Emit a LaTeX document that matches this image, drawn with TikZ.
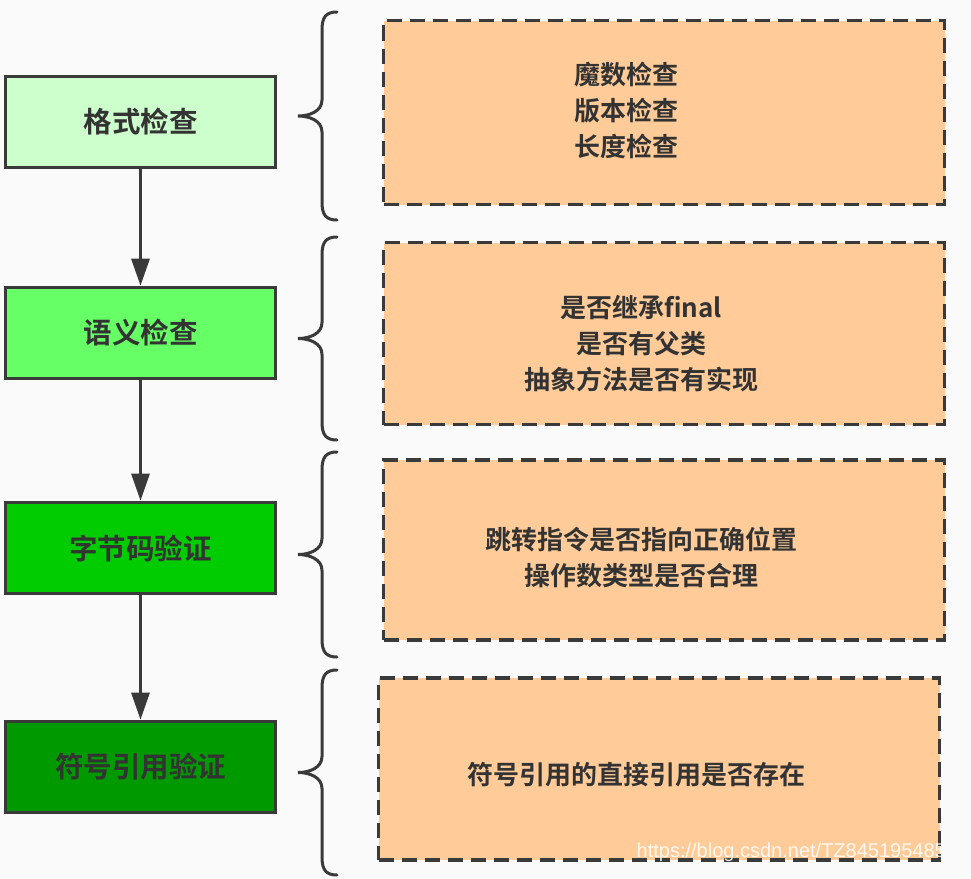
\documentclass[tikz,border=0pt]{standalone}
\usepackage{fontspec}
\newfontfamily\cjk{Noto Sans CJK SC Bold}
\newfontfamily\wmfont{Liberation Sans}
\usetikzlibrary{arrows.meta}
\definecolor{bg}{HTML}{FAFAFA}
\definecolor{edge}{HTML}{3A3A3A}
\definecolor{txt}{HTML}{333333}
\definecolor{gA}{HTML}{CCFFCC}
\definecolor{gB}{HTML}{66FF66}
\definecolor{gC}{HTML}{00CC00}
\definecolor{gD}{HTML}{009900}
\definecolor{peach}{HTML}{FFCC99}
\tikzset{
  stage/.style={draw=edge, line width=3.6pt, minimum width=270pt, minimum height=91pt, inner sep=0pt,
    font=\cjk\fontsize{28.5}{32}\selectfont, text=txt},
  detail/.style={draw=edge, line width=3.6pt, dash pattern=on 15pt off 8pt, fill=peach,
    minimum width=561pt, inner sep=0pt},
  detailtext/.style={align=center, font=\cjk\fontsize{26}{36}\selectfont, text=txt, inner sep=0pt},
  flow/.style={draw=edge, line width=3pt, -{Triangle[length=27pt,width=18pt]}},
  bracestyle/.style={draw=edge, line width=3pt, line cap=round},
}
\begin{document}
\begin{tikzpicture}[x=1pt,y=-1pt]
\fill[bg] (0,0) rectangle (971,878);
\useasboundingbox (0,0) rectangle (971,878);
% stages
\node[stage, fill=gA] (s1) at (140.5,122) {\raisebox{-4pt}{格式检查}};
\node[stage, fill=gB] (s2) at (140.5,333) {\raisebox{-4pt}{语义检查}};
\node[stage, fill=gC] (s3) at (140.5,548) {\raisebox{-4pt}{字节码验证}};
\node[stage, fill=gD] (s4) at (140.5,767) {\raisebox{-4pt}{符号引用验证}};
% arrows
\draw[flow] (s1) -- (s2);
\draw[flow] (s2) -- (s3);
\draw[flow] (s3) -- (s4);
% detail boxes
\node[detail, minimum height=184pt] (d1) at (664,112.5) {};
\node[detail, minimum height=182pt] (d2) at (664,333.5) {};
\node[detail, minimum height=180pt] (d3) at (664,550) {};
\node[detail, minimum height=182pt] (d4) at (659,769) {};
\node[detailtext] (t1) at (626,110) {魔数检查\\版本检查\\长度检查};
\node[detailtext] (t2) at (641,344) {是否继承final\\是否有父类\\抽象方法是否有实现};
\node[detailtext] (t3) at (641,557) {跳转指令是否指向正确位置\\操作数类型是否合理};
\node[detailtext] (t4) at (636,775) {符号引用的直接引用是否存在};
% braces
\foreach \T/\B in {12/220, 237/440, 452/657, 670/875}{
  \pgfmathsetmacro{\M}{(\T+\B)/2}
  \draw[bracestyle] (337,\T) .. controls (326,\T) and (322,\T+5) .. (322,\T+18)
    -- (322,\M-16) .. controls (322,\M-5) and (310,\M) .. (298,\M)
    .. controls (310,\M) and (322,\M+5) .. (322,\M+16)
    -- (322,\B-18) .. controls (322,\B-5) and (326,\B) .. (337,\B);
}
% watermark
\node[anchor=east, inner sep=0pt, font=\wmfont\fontsize{20}{20}\selectfont, text=white, opacity=0.85] (wm) at (946,852) {https://blog.csdn.net/TZ845195485};
\end{tikzpicture}
\end{document}
